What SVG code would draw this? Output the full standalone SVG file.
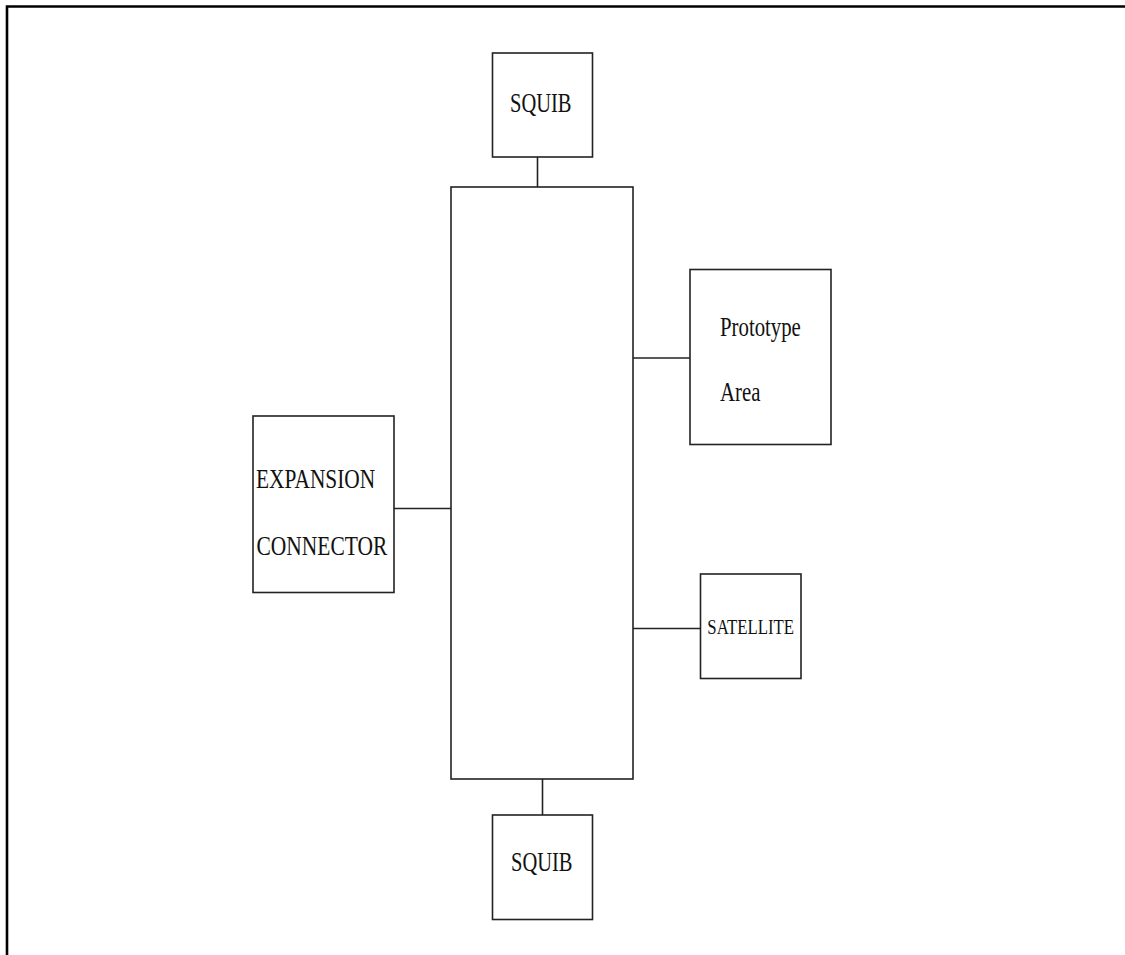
<svg xmlns="http://www.w3.org/2000/svg" width="1125" height="955" viewBox="0 0 1125 955">
<style>
.box{fill:#fff;stroke:#222;stroke-width:1.6}
.ln{stroke:#222;stroke-width:1.6;fill:none}
.t{font-family:"Liberation Serif","Times New Roman",serif;fill:#111}
</style>
<rect width="1125" height="955" fill="#fff"/>
<path d="M7 955 V6.5 H1125" fill="none" stroke="#000" stroke-width="2.6"/>
<g id="connectors">
<line class="ln" x1="537.5" y1="157" x2="537.5" y2="187"/>
<line class="ln" x1="542.5" y1="779" x2="542.5" y2="815"/>
<line class="ln" x1="394" y1="508.5" x2="451" y2="508.5"/>
<line class="ln" x1="633" y1="358" x2="690" y2="358"/>
<line class="ln" x1="633" y1="628.5" x2="700" y2="628.5"/>
</g>
<g id="main"><rect class="box" x="451" y="187" width="182" height="592"/></g>
<g id="squib-top"><rect class="box" x="492.5" y="53" width="100" height="104"/>
<text class="t" font-size="20.5" transform="translate(510,111.7) scale(1,1.38)">SQUIB</text></g>
<g id="squib-bottom"><rect class="box" x="492.5" y="815" width="100" height="104.5"/>
<text class="t" font-size="20.5" transform="translate(511,871) scale(1,1.38)">SQUIB</text></g>
<g id="expansion"><rect class="box" x="253" y="416" width="141" height="176.5"/>
<text class="t" font-size="21.4" transform="translate(256,488.3) scale(1,1.32)">EXPANSION</text>
<text class="t" font-size="21.5" transform="translate(256.5,554.5) scale(1,1.32)">CONNECTOR</text></g>
<g id="prototype"><rect class="box" x="690" y="269.5" width="141" height="175"/>
<text class="t" font-size="20.8" transform="translate(720,336) scale(1,1.28)">Prototype</text>
<text class="t" font-size="20.8" transform="translate(720,401) scale(1,1.28)">Area</text></g>
<g id="satellite"><rect class="box" x="700.5" y="574" width="100.5" height="104.5"/>
<text class="t" font-size="16.8" transform="translate(707.3,634.3) scale(1,1.29)">SATELLITE</text></g>
</svg>
